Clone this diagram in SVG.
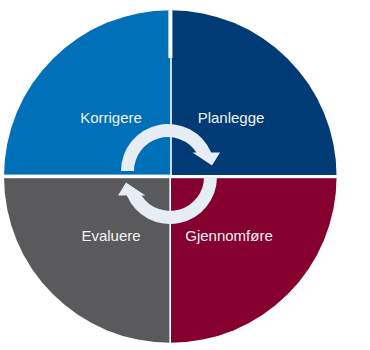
<svg xmlns="http://www.w3.org/2000/svg" width="370" height="350" viewBox="0 0 370 350">
  <defs>
    <clipPath id="disc">
      <circle cx="170.3" cy="176.5" r="166.3"/>
    </clipPath>
    <path id="arc" d="M 121 171 A 47 47 0 0 1 211.2 152.5 L 220 152.5 L 212 165.5 L 192.5 152.5 L 196.5 152.5 A 34 34 0 0 0 134 171 Z"/>
  </defs>
  <style>
    .lbl { font-family: "Liberation Sans", Arial, sans-serif; font-size: 15px; fill: #f2f2f2; text-anchor: middle; }
    .arrow { fill: #e6edf5; }
  </style>
  <rect width="370" height="350" fill="#ffffff"/>
  <g clip-path="url(#disc)">
    <g id="korrigere">
      <rect x="0" y="0" width="170.2" height="174.6" fill="#0070b9"/>
    </g>
    <g id="planlegge">
      <rect x="171.8" y="0" width="200" height="175" fill="#003b75"/>
    </g>
    <g id="evaluere">
      <rect x="0" y="178.2" width="169.4" height="200" fill="#5a5a5c"/>
    </g>
    <g id="gjennomfore">
      <rect x="171" y="178.2" width="200" height="200" fill="#86002f"/>
    </g>
    <rect x="168.4" y="0" width="4" height="58" fill="#ffffff"/>
  </g>
  <text class="lbl" x="111" y="122.5">Korrigere</text>
  <text class="lbl" x="231" y="122.5">Planlegge</text>
  <text class="lbl" x="111" y="241">Evaluere</text>
  <text class="lbl" x="229" y="241">Gjennomføre</text>
  <g id="connectors">
    <use href="#arc" class="arrow"/>
    <use href="#arc" class="arrow" transform="rotate(180 169 174)"/>
  </g>
</svg>
